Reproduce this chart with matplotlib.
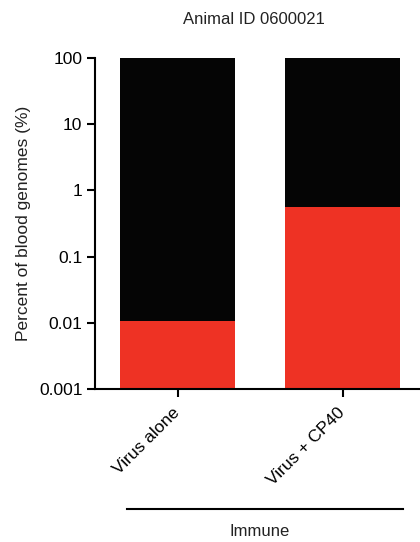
import matplotlib
matplotlib.use("Agg")
import matplotlib.pyplot as plt
from matplotlib.lines import Line2D
import numpy as np

plt.rcParams['font.family'] = ['Liberation Sans', 'DejaVu Sans']

categories = ["Virus alone", "Virus + CP40"]
immune_pct = [0.0106, 0.56]      # red segment (from axis floor)
total_pct = [100, 100]            # bar top
group_label = "Immune"
title = "Animal ID 0600021"
ylabel = "Percent of blood genomes (%)"
yticks = [0.001, 0.01, 0.1, 1, 10, 100]
ytick_labels = ["0.001", "0.01", "0.1", "1", "10", "100"]

RED = "#EE3224"
BLACK = "#050505"

fig = plt.figure(figsize=(4.2, 5.42), dpi=100)
ax = fig.add_axes([95/420, (542-389)/542, 1 - 95/420, (389-58)/542])

x = np.arange(len(categories))
width = 0.697
floor = 0.001
ax.bar(x, np.array(total_pct) - floor, bottom=floor, width=width, color=BLACK, linewidth=0)
ax.bar(x, np.array(immune_pct) - floor, bottom=floor, width=width, color=RED, linewidth=0)

ax.set_yscale('log')
ax.set_ylim(0.001, 100)
ax.set_xlim(-0.503, 1.467)
ax.set_yticks(yticks)
ax.set_yticklabels(ytick_labels)
ax.minorticks_off()
ax.set_xticks(x)
ax.set_xticklabels([])

# slanted category labels, ending just left of and below each tick
for xi, cat in zip(x, categories):
    ax.annotate(cat, xy=(xi, 0), xycoords=('data', 'axes fraction'),
                xytext=(-6, -16), textcoords='offset pixels',
                rotation=45, ha='right', va='top', rotation_mode='anchor',
                fontsize=12.5, color='black')

for s in ['top', 'right']:
    ax.spines[s].set_visible(False)
for s in ['left', 'bottom']:
    ax.spines[s].set_linewidth(1.5)
ax.tick_params(direction='out', length=6, width=1.5, labelsize=12.5, colors='black')
ax.tick_params(axis='y', pad=3)

ax.set_ylabel(ylabel, fontsize=12.5, labelpad=6, color='#222222')
fig.text(254/420, 1 - 19/542, title, ha='center', va='center', fontsize=12, color='#222222')

# group bracket under the categories
fig.add_artist(Line2D([127/420, 403/420], [1 - 509/542, 1 - 509/542], color='black', lw=1.5))
fig.text(260/420, 1 - 531/542, group_label, ha='center', va='center', fontsize=12, color='#222222')

fig.savefig("out.png", dpi=100)
